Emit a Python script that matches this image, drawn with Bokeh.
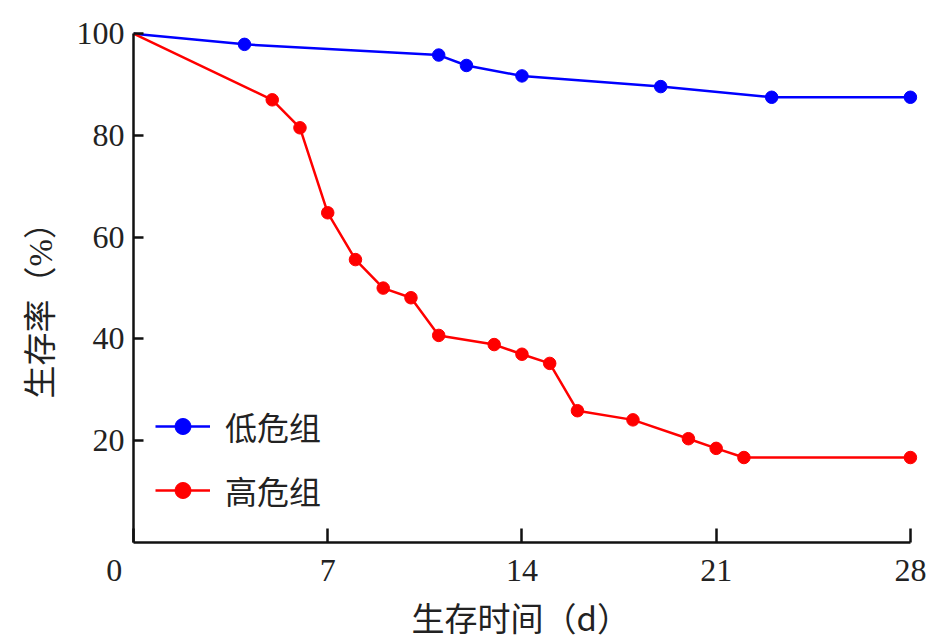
from bokeh.plotting import figure
from bokeh.models import Range1d, FixedTicker, Legend, LegendItem, Title
from bokeh.embed import file_html
from bokeh.resources import INLINE

# data
low_x = [0, 4, 11, 12, 14, 19, 23, 28]
low_y = [100, 97.9, 95.8, 93.75, 91.7, 89.6, 87.5, 87.5]
high_x = [0, 5, 6, 7, 8, 9, 10, 11, 13, 14, 15, 16, 18, 20, 21, 22, 28]
high_y = [100, 87.0, 81.5, 64.8, 55.6, 50.0, 48.1, 40.7, 38.9, 37.0, 35.2, 25.9, 24.1, 20.4, 18.5, 16.7, 16.7]
x_ticks = [0, 7, 14, 21, 28]
x_tick_labels = ["0\u2003\u2009", "7", "14", "21", "28"]
y_ticks = [20, 40, 60, 80, 100]
series_names = ["低危组", "高危组"]
x_title = "生存时间（d）"
y_title = "生存率（%）"

SERIF = "Liberation Serif"
CJK = "Noto Sans CJK SC"
BLUE = "#0000ff"
RED = "#ff0000"
TXT = "#222222"

p = figure(width=941, height=640, x_range=Range1d(0, 28.4), y_range=Range1d(0, 102),
           output_backend="svg", toolbar_location=None,
           min_border_left=133, min_border_right=20, min_border_top=23, min_border_bottom=88)
p.outline_line_color = None
p.xgrid.grid_line_color = None
p.ygrid.grid_line_color = None

for ax in (p.xaxis[0], p.yaxis[0]):
    ax.axis_line_width = 2.5
    ax.axis_line_color = "#111111"
    ax.major_tick_line_width = 2.5
    ax.major_tick_line_color = "#111111"
    ax.minor_tick_line_color = None
    ax.major_tick_out = 0
    ax.major_label_text_font = SERIF
    ax.major_label_text_font_size = "32px"
    ax.major_label_text_color = TXT

p.xaxis.ticker = FixedTicker(ticks=x_ticks)
p.xaxis.major_label_overrides = {t: s for t, s in zip(x_ticks, x_tick_labels)}
p.xaxis.bounds = (0, 28)
p.xaxis.major_tick_in = 14
p.xaxis.major_label_standoff = 9

p.yaxis.ticker = FixedTicker(ticks=y_ticks)
p.yaxis.bounds = (0, 100)
p.yaxis.major_tick_in = 10
p.yaxis.major_label_standoff = 9

l1 = p.line(low_x, low_y, line_color=BLUE, line_width=2.5)
s1 = p.scatter(low_x[1:], low_y[1:], size=12.5, fill_color=BLUE, line_color=BLUE)
l2 = p.line(high_x, high_y, line_color=RED, line_width=2.5)
s2 = p.scatter(high_x[1:], high_y[1:], size=12.5, fill_color=RED, line_color=RED)

legend = Legend(items=[LegendItem(label=series_names[0], renderers=[l1, s1]),
                       LegendItem(label=series_names[1], renderers=[l2, s2])],
                location=(22, 29), padding=0, margin=0, border_line_color=None,
                background_fill_alpha=0, glyph_width=55, glyph_height=40, label_height=40,
                label_standoff=15, spacing=18, label_text_font=CJK,
                label_text_font_size="32px", label_text_color=TXT)
p.add_layout(legend, "center")

p.add_layout(Title(text=x_title, align="left", offset=278, standoff=0,
                   text_font=CJK, text_font_size="33px", text_font_style="normal",
                   text_color=TXT), "below")
p.add_layout(Title(text=y_title, align="left", offset=144, standoff=30,
                   text_font="Liberation Serif, Noto Sans CJK SC", text_font_size="33px",
                   text_font_style="normal", text_color=TXT), "left")

open("out.html", "w").write(file_html(p, INLINE))
